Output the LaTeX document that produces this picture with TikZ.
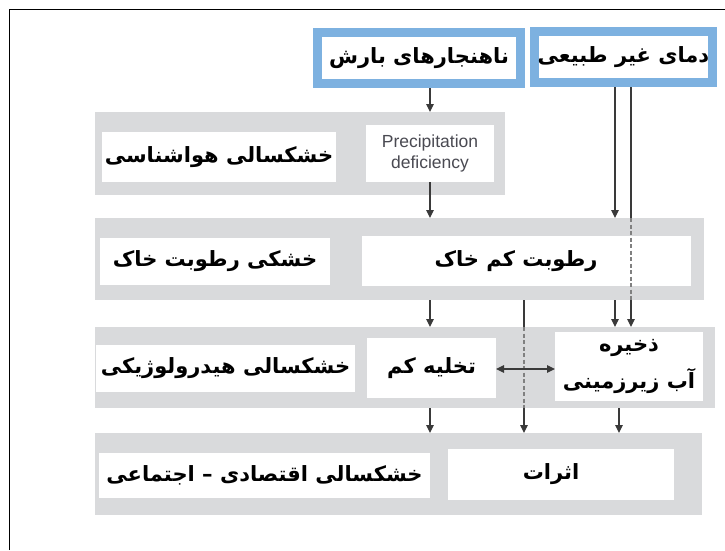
\documentclass[tikz,border=0pt]{standalone}
\usepackage{fontspec}
\usetikzlibrary{arrows.meta}
\TeXXeTstate=1
\newfontfamily\fafont[Script=Arabic]{DejaVu Sans}
\newfontfamily\latfont{Liberation Sans}
\newcommand\fatxt[1]{\beginR #1\endR}
\definecolor{bandgray}{HTML}{D9DADC}
\definecolor{boxblue}{HTML}{7DB1E0}
\definecolor{linegray}{HTML}{3A3A3A}
\definecolor{entxt}{HTML}{4A4A52}
\definecolor{dashgray}{HTML}{808080}
\tikzset{
  band/.style={fill=bandgray, draw=none, inner sep=0pt, outer sep=0pt},
  wbox/.style={fill=white, draw=none, inner sep=0pt, outer sep=0pt},
  topbox/.style={fill=white, draw=boxblue, line width=9pt, inner sep=0pt, outer sep=4.5pt},
  fatext/.style={font=\fafont\bfseries\fontsize{21}{37}\selectfont, text=black, align=center},
  entext/.style={font=\latfont\fontsize{17.5}{21}\selectfont, text=entxt, align=center},
  conn/.style={draw=linegray, line width=1.1pt},
  arr/.style={conn, -{Triangle[length=8pt,width=7.5pt]}},
  darr/.style={conn, {Triangle[length=8pt,width=7.5pt]}-{Triangle[length=8pt,width=7.5pt]}},
  dashln/.style={draw=dashgray, line width=1.1pt, dash pattern=on 4pt off 2.5pt},
}
\begin{document}
\begin{tikzpicture}[x=1pt,y=-1pt]
\useasboundingbox (0,0) rectangle (725,550);
\fill[white] (0,0) rectangle (725,550);
\draw[line width=0.9pt] (9.5,550) -- (9.5,9.5) -- (725,9.5);

% top boxes
\node[topbox, minimum width=203pt, minimum height=51pt, fatext] (b1) at (419,58) {\fatxt{ناهنجارهای بارش}};
\node[topbox, minimum width=178pt, minimum height=51pt, fatext] (b2) at (623.5,57) {\fatxt{دمای غیر طبیعی}};

% bands
\node[band, minimum width=410pt, minimum height=83pt] (band1) at (300,153.5) {};
\node[band, minimum width=609pt, minimum height=82pt] (band2) at (399.5,259) {};
\node[band, minimum width=620pt, minimum height=81pt] (band3) at (405,367.5) {};
\node[band, minimum width=607pt, minimum height=82pt] (band4) at (398.5,474) {};

% white boxes
\node[wbox, minimum width=234pt, minimum height=50pt, fatext] (r1L) at (219,157) {\fatxt{خشکسالی هواشناسی}};
\node[wbox, minimum width=128pt, minimum height=57pt, entext] (r1R) at (430,153.5) {Precipitation\\deficiency};
\node[wbox, minimum width=230pt, minimum height=47pt, fatext] (r2L) at (215,261.5) {\fatxt{خشکی رطوبت خاک}};
\node[wbox, minimum width=329pt, minimum height=50pt] (r2R) at (526.5,261) {};
\node[fatext] (t2R) at (516,261) {\fatxt{رطوبت کم خاک}};
\node[wbox, minimum width=259pt, minimum height=47pt, fatext] (r3L) at (225.5,368.5) {\fatxt{خشکسالی هیدرولوژیکی}};
\node[wbox, minimum width=129pt, minimum height=60pt, fatext] (r3M) at (431.5,368) {\fatxt{تخلیه کم}};
\node[wbox, minimum width=148pt, minimum height=69pt, fatext] (r3R) at (629,366.5) {\fatxt{ذخیره}\\\fatxt{آب زیرزمینی}};
\node[wbox, minimum width=331pt, minimum height=45pt, fatext] (r4L) at (264.5,475.5) {\fatxt{خشکسالی اقتصادی – اجتماعی}};
\node[wbox, minimum width=226pt, minimum height=51pt] (r4R) at (561,474.5) {};
\node[fatext] (t4R) at (551,474.5) {\fatxt{اثرات}};

% column coordinates
\coordinate (cA) at (430,0);
\coordinate (cB) at (524,0);
\coordinate (cC) at (615,0);
\coordinate (cD) at (631,0);
\coordinate (cE) at (619,0);

% connectors
\draw[arr] (b1.south -| cA) -- (band1.north -| cA);
\draw[arr] (r1R.south) -- (band2.north -| cA);
\draw[arr] (b2.south -| cC) -- (band2.north -| cC);
\draw[conn] (b2.south -| cD) -- (band2.north -| cD);
\draw[dashln] (band2.north -| cD) -- (band2.south -| cD);
\draw[arr] (band2.south -| cD) -- (band3.north -| cD);
\draw[arr] (band2.south -| cA) -- (band3.north -| cA);
\draw[arr] (band2.south -| cC) -- (band3.north -| cC);
\draw[conn] (band2.south -| cB) -- (band3.north -| cB);
\draw[dashln] (band3.north -| cB) -- (band3.south -| cB);
\draw[arr] (band3.south -| cB) -- (band4.north -| cB);
\draw[arr] (band3.south -| cA) -- (band4.north -| cA);
\draw[arr] (band3.south -| cE) -- (band4.north -| cE);
\draw[darr] (r3M.east |- 0,369) -- (r3R.west |- 0,369);
\end{tikzpicture}
\end{document}
